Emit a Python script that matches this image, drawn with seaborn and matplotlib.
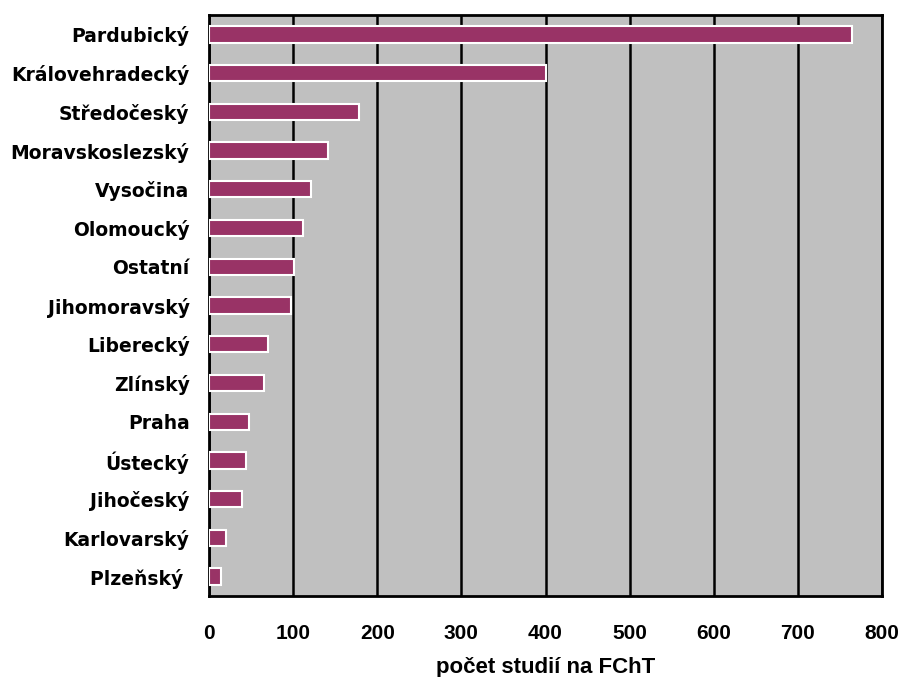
import matplotlib
matplotlib.use("Agg")
import matplotlib.pyplot as plt
import seaborn as sns
import pandas as pd

regions = ["Pardubický", "Královehradecký", "Středočeský", "Moravskoslezský",
           "Vysočina", "Olomoucký", "Ostatní", "Jihomoravský", "Liberecký",
           "Zlínský", "Praha", "Ústecký", "Jihočeský", "Karlovarský", "Plzeňský "]
counts = [764, 400, 178, 141, 121, 112, 101, 98, 70, 65, 47, 44, 39, 20, 14]
x_ticks = [0, 100, 200, 300, 400, 500, 600, 700, 800]

df = pd.DataFrame({"kraj": regions, "pocet": counts})

sns.set_style("white")
plt.rcParams["font.family"] = ["DejaVu Sans"]
plt.rcParams["text.color"] = "black"
plt.rcParams["xtick.color"] = "black"
plt.rcParams["ytick.color"] = "black"
plt.rcParams["axes.labelcolor"] = "black"

fig = plt.figure(figsize=(9.01, 6.77), dpi=100)
ax = fig.add_axes([209 / 901, 1 - 596 / 677, (882 - 209) / 901, (596 - 15) / 677])

sns.barplot(data=df, x="pocet", y="kraj", orient="h", color="#993366",
            saturation=1, width=0.42, edgecolor="white", linewidth=1.5,
            ax=ax, zorder=3)

ax.set_facecolor("#C0C0C0")
ax.set_xlim(0, 800)
ax.set_xticks(x_ticks)
ax.grid(axis="x", color="black", linewidth=1.8, zorder=0)
ax.set_axisbelow(True)
for s in ax.spines.values():
    s.set_visible(True)
    s.set_color("black")
    s.set_linewidth(2)

ax.tick_params(axis="y", length=0, pad=14)
ax.tick_params(axis="x", length=0, pad=20)
for lbl in ax.get_yticklabels():
    lbl.set_fontsize(13.5)
    lbl.set_fontweight("bold")
for lbl in ax.get_xticklabels():
    lbl.set_family(["Liberation Sans Narrow", "Liberation Sans"])
    lbl.set_fontsize(15)
    lbl.set_fontweight("bold")

ax.set_ylabel("")
ax.set_xlabel("počet studií na FChT", fontsize=16, fontweight="bold",
              family=["Liberation Sans Narrow", "Liberation Sans"], labelpad=10)

fig.savefig("out.png", dpi=100)
